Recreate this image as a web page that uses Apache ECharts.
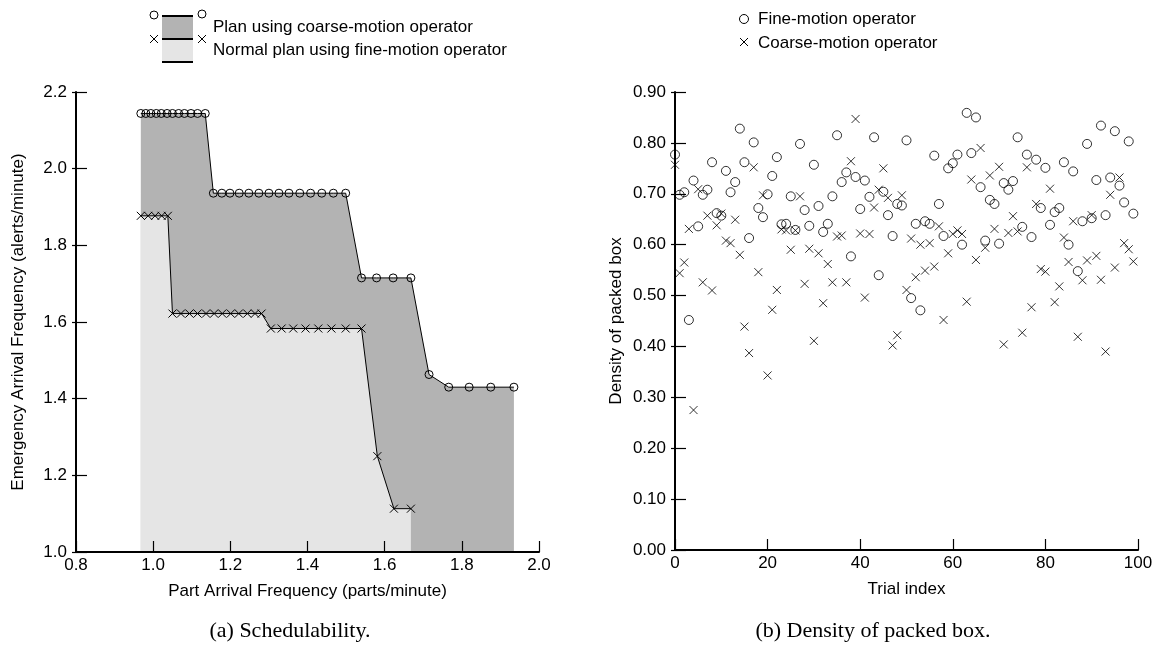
<!DOCTYPE html>
<html>
<head>
<meta charset="utf-8">
<script src="https://cdn.jsdelivr.net/npm/echarts@6/dist/echarts.min.js"></script>
<style>
html,body{margin:0;padding:0;background:#fff;}
#chart{width:1164px;height:652px;}
</style>
</head>
<body>
<div id="chart"></div>
<script>
// ---------- (a) Schedulability ----------
const coarsePartFreq = [0.968,0.981,0.994,1.008,1.021,1.036,1.050,1.066,1.081,1.098,1.115,1.135,
  1.156,1.178,1.199,1.223,1.248,1.274,1.300,1.326,1.352,1.380,1.408,1.437,1.467,1.499,
  1.540,1.579,1.622,1.668,1.715,1.766,1.819,1.875,1.935];
const coarseEmergFreq = [2.144,2.144,2.144,2.144,2.144,2.144,2.144,2.144,2.144,2.144,2.144,2.144,
  1.936,1.936,1.936,1.936,1.936,1.936,1.936,1.936,1.936,1.936,1.936,1.936,1.936,1.936,
  1.715,1.715,1.715,1.715,1.463,1.430,1.430,1.430,1.430];
const finePartFreq = [0.968,0.987,1.005,1.022,1.038,
  1.050,1.072,1.094,1.115,1.137,1.158,1.179,1.201,1.222,1.244,1.264,1.281,
  1.305,1.333,1.363,1.395,1.428,1.462,1.499,1.540,1.581,1.624,1.668];
const fineEmergFreq = [1.877,1.877,1.877,1.877,1.877,
  1.622,1.622,1.622,1.622,1.622,1.622,1.622,1.622,1.622,1.622,1.622,1.622,
  1.583,1.583,1.583,1.583,1.583,1.583,1.583,1.583,1.250,1.113,1.113];
const aXTicks = [0.8,1.0,1.2,1.4,1.6,1.8,2.0];
const aYTicks = [1.0,1.2,1.4,1.6,1.8,2.0,2.2];

// ---------- (b) Density of packed box ----------
const fineDensity = [0.777,0.698,0.703,0.452,0.726,0.636,0.698,0.708,0.762,0.662,
  0.657,0.745,0.703,0.723,0.828,0.762,0.613,0.801,0.672,0.654,
  0.699,0.735,0.772,0.640,0.641,0.695,0.629,0.798,0.668,0.637,
  0.757,0.676,0.625,0.641,0.695,0.815,0.723,0.742,0.577,0.733,
  0.670,0.726,0.694,0.811,0.540,0.704,0.658,0.617,0.680,0.677,
  0.805,0.495,0.641,0.471,0.646,0.641,0.775,0.680,0.617,0.750,
  0.760,0.777,0.600,0.859,0.780,0.850,0.713,0.608,0.688,0.680,
  0.602,0.721,0.708,0.725,0.811,0.635,0.777,0.615,0.767,0.672,
  0.751,0.639,0.664,0.672,0.762,0.600,0.744,0.548,0.646,0.798,
  0.652,0.727,0.834,0.658,0.732,0.823,0.716,0.683,0.803,0.661];
const coarseDensity = [0.757,0.544,0.565,0.631,0.275,0.709,0.526,0.657,0.510,0.638,
  0.661,0.608,0.603,0.649,0.580,0.439,0.387,0.752,0.546,0.697,
  0.343,0.472,0.511,0.630,0.628,0.590,0.628,0.695,0.523,0.592,
  0.411,0.583,0.485,0.562,0.526,0.616,0.618,0.526,0.764,0.847,
  0.622,0.496,0.621,0.673,0.708,0.750,0.692,0.402,0.422,0.697,
  0.511,0.612,0.536,0.600,0.549,0.603,0.557,0.636,0.452,0.583,
  0.621,0.628,0.621,0.488,0.728,0.570,0.790,0.594,0.736,0.631,
  0.753,0.404,0.623,0.656,0.626,0.427,0.752,0.477,0.680,0.552,
  0.547,0.710,0.487,0.518,0.614,0.566,0.646,0.419,0.530,0.569,
  0.658,0.578,0.531,0.390,0.698,0.555,0.732,0.603,0.591,0.567];
const bXTicks = [0,20,40,60,80,100];
const bYTicks = [0.0,0.1,0.2,0.3,0.4,0.5,0.6,0.7,0.8,0.9];

const FONT = '"Liberation Sans", Arial, Helvetica, sans-serif';
const SERIF = '"Liberation Serif", "DejaVu Serif", serif';
const FS = 17;
const CROSS = 'path://M0,0L10,10M10,0L0,10';

function lbl(fmt, margin){
  const o = {color:'#000',fontFamily:FONT,fontSize:FS,margin:margin};
  if (fmt) o.formatter = fmt;
  return o;
}
function mainAxis(extra){
  return Object.assign({
    z:5,
    axisLine:{show:true,onZero:false,lineStyle:{color:'#000',width:2}},
    axisTick:{show:true,inside:true,length:11,lineStyle:{color:'#000',width:1.2}},
    splitLine:{show:false},
    nameTextStyle:{color:'#000',fontFamily:FONT,fontSize:FS},
    nameLocation:'middle'
  }, extra);
}
// short outer tick stubs so the y ticks cross the axis line, as in the reference
function stubAxis(extra){
  return Object.assign({
    type:'value', position:'left', offset:0, z:5,
    axisLine:{show:false,onZero:false},
    axisTick:{show:true,inside:false,length:4,lineStyle:{color:'#000',width:1.2}},
    axisLabel:{show:false},
    splitLine:{show:false}
  }, extra);
}

const chart = echarts.init(document.getElementById('chart'), null, {renderer:'canvas'});
const option = {
  backgroundColor:'#fff',
  animation:false,
  grid:[
    {left:76, top:92, width:463, height:460},
    {left:675, top:92, width:463, height:458}
  ],
  xAxis:[
    mainAxis({gridIndex:0,type:'value',min:aXTicks[0],max:aXTicks[aXTicks.length-1],interval:0.2,
      name:'Part Arrival Frequency (parts/minute)',nameGap:31,
      axisLabel:lbl(v=>v.toFixed(1),5)}),
    mainAxis({gridIndex:1,type:'value',min:bXTicks[0],max:bXTicks[bXTicks.length-1],interval:20,
      name:'Trial index',nameGap:31,
      axisLabel:lbl(null,5)})
  ],
  yAxis:[
    mainAxis({gridIndex:0,type:'value',position:'left',min:aYTicks[0],max:aYTicks[aYTicks.length-1],interval:0.2,
      name:'Emergency Arrival Frequency (alerts/minute)',nameGap:49,
      axisLabel:lbl(v=>v.toFixed(1),9)}),
    mainAxis({gridIndex:1,type:'value',position:'left',min:bYTicks[0],max:bYTicks[bYTicks.length-1],interval:0.1,
      name:'Density of packed box',nameGap:50,
      axisLabel:lbl(v=>v.toFixed(2),9)}),
    stubAxis({gridIndex:0,min:aYTicks[0],max:aYTicks[aYTicks.length-1],interval:0.2}),
    stubAxis({gridIndex:1,min:bYTicks[0],max:bYTicks[bYTicks.length-1],interval:0.1})
  ],
  series:[
    {name:'Plan using coarse-motion operator', type:'line', xAxisIndex:0, yAxisIndex:0,
      data: coarsePartFreq.map((x,i)=>[x, coarseEmergFreq[i]]),
      symbol:'circle', symbolSize:8, z:2,
      itemStyle:{color:'transparent',borderColor:'#000',borderWidth:1},
      lineStyle:{color:'#000',width:1},
      areaStyle:{color:'#b3b3b3',opacity:1,origin:'start'}},
    {name:'Normal plan using fine-motion operator', type:'line', xAxisIndex:0, yAxisIndex:0,
      data: finePartFreq.map((x,i)=>[x, fineEmergFreq[i]]),
      symbol:CROSS, symbolSize:8, z:3,
      itemStyle:{color:'none',borderColor:'#000',borderWidth:1},
      lineStyle:{color:'#000',width:1},
      areaStyle:{color:'#e5e5e5',opacity:1,origin:'start'}},
    {name:'Fine-motion operator', type:'scatter', xAxisIndex:1, yAxisIndex:1,
      data: fineDensity.map((v,i)=>[i,v]),
      symbol:'circle', symbolSize:9,
      itemStyle:{color:'transparent',borderColor:'#000',borderWidth:1}},
    {name:'Coarse-motion operator', type:'scatter', xAxisIndex:1, yAxisIndex:1,
      data: coarseDensity.map((v,i)=>[i,v]),
      symbol:CROSS, symbolSize:8,
      itemStyle:{color:'none',borderColor:'#000',borderWidth:1}}
  ],
  graphic:[
    // legend of (a)
    {type:'rect',shape:{x:162,y:16,width:31,height:23},style:{fill:'#b3b3b3'}},
    {type:'rect',shape:{x:162,y:39,width:31,height:23},style:{fill:'#e5e5e5'}},
    {type:'line',shape:{x1:162,y1:16,x2:193,y2:16},style:{stroke:'#000',lineWidth:2}},
    {type:'line',shape:{x1:162,y1:39,x2:193,y2:39},style:{stroke:'#000',lineWidth:2}},
    {type:'line',shape:{x1:162,y1:62,x2:193,y2:62},style:{stroke:'#000',lineWidth:2}},
    {type:'circle',shape:{cx:154,cy:15,r:4},style:{fill:'none',stroke:'#000',lineWidth:1}},
    {type:'circle',shape:{cx:202,cy:14,r:4},style:{fill:'none',stroke:'#000',lineWidth:1}},
    {type:'polyline',shape:{points:[[150,35],[158,43]]},style:{stroke:'#000',lineWidth:1}},
    {type:'polyline',shape:{points:[[158,35],[150,43]]},style:{stroke:'#000',lineWidth:1}},
    {type:'polyline',shape:{points:[[198,35],[206,43]]},style:{stroke:'#000',lineWidth:1}},
    {type:'polyline',shape:{points:[[206,35],[198,43]]},style:{stroke:'#000',lineWidth:1}},
    {type:'text',x:213,y:27,style:{text:'Plan using coarse-motion operator',fill:'#000',font:FS+'px '+FONT,textVerticalAlign:'middle'}},
    {type:'text',x:213,y:50,style:{text:'Normal plan using fine-motion operator',fill:'#000',font:FS+'px '+FONT,textVerticalAlign:'middle'}},
    // legend of (b)
    {type:'circle',shape:{cx:744,cy:19,r:4.5},style:{fill:'none',stroke:'#000',lineWidth:1}},
    {type:'polyline',shape:{points:[[740,38],[748,46]]},style:{stroke:'#000',lineWidth:1}},
    {type:'polyline',shape:{points:[[748,38],[740,46]]},style:{stroke:'#000',lineWidth:1}},
    {type:'text',x:758,y:19,style:{text:'Fine-motion operator',fill:'#000',font:FS+'px '+FONT,textVerticalAlign:'middle'}},
    {type:'text',x:758,y:43,style:{text:'Coarse-motion operator',fill:'#000',font:FS+'px '+FONT,textVerticalAlign:'middle'}},
    // captions
    {type:'text',x:290,y:631,style:{text:'(a) Schedulability.',fill:'#000',font:'22px '+SERIF,textAlign:'center',textVerticalAlign:'middle'}},
    {type:'text',x:873,y:631,style:{text:'(b) Density of packed box.',fill:'#000',font:'22px '+SERIF,textAlign:'center',textVerticalAlign:'middle'}}
  ]
};
chart.setOption(option);
</script>
</body>
</html>
